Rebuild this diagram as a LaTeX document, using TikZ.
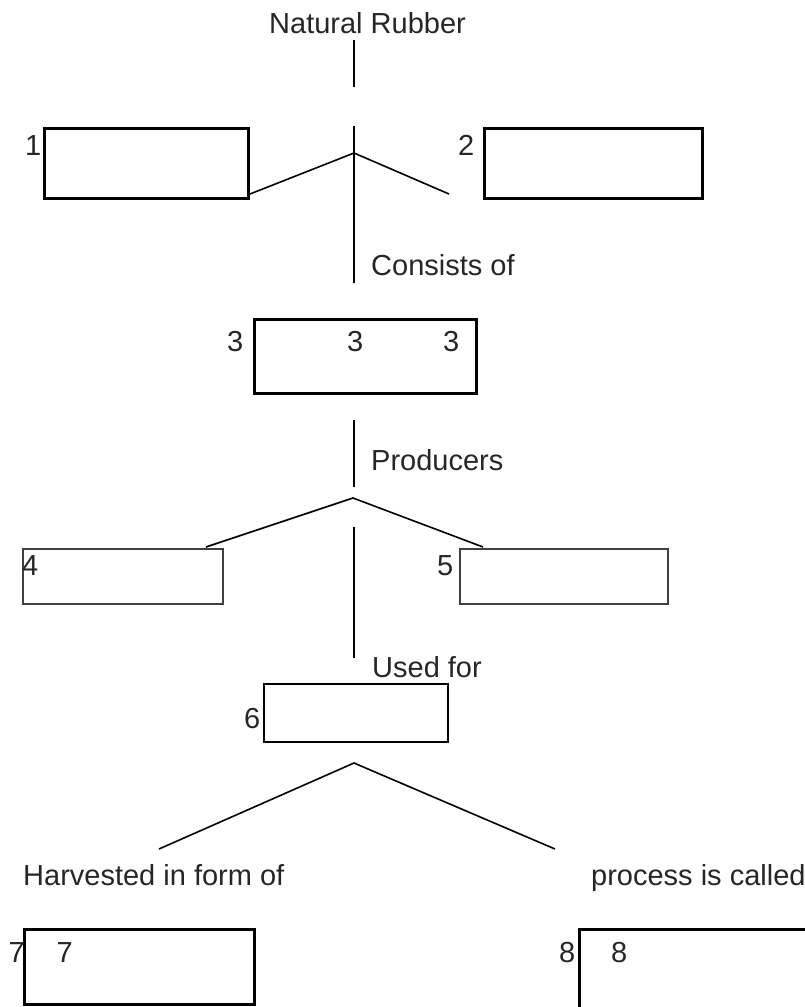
\documentclass[tikz,border=0pt]{standalone}
\usepackage{fontspec}
\setmainfont{Liberation Sans}
\begin{document}
\begin{tikzpicture}[x=1pt,y=-1pt,
    every node/.style={inner sep=0pt,text=black!85,font=\fontsize{29}{34}\selectfont},
    lbl/.style={anchor=base west},
    box/.style={draw,line width=2.6pt,anchor=north west},
    thinbox/.style={draw=black!75,line width=1.8pt,anchor=north west},
    link/.style={line width=1.6pt}]
  \useasboundingbox (0,0) rectangle (805,1007);
  \node[lbl] (title) at (269,33) {Natural Rubber};
  \coordinate (a1) at (354,40);
  \coordinate (a2) at (354,87);
  \draw[link] (a1) -- (a2);
  \node[box,minimum width=204pt,minimum height=70pt] (b1) at (43,127) {};
  \node[box,minimum width=218pt,minimum height=70pt] (b2) at (483,127) {};
  \node[lbl] (n1) at (25,155) {1};
  \node[lbl] (n2) at (458,155) {2};
  \coordinate (c1) at (354,126);
  \coordinate (c2) at (354,283);
  \coordinate (ctop) at (354,153);
  \coordinate (cl) at (250,194);
  \coordinate (cr) at (449,194);
  \draw[link] (c1) -- (c2);
  \draw[link] (cl) -- (ctop) -- (cr);
  \node[lbl] (cons) at (371,275) {Consists of};
  \node[box,minimum width=222pt,minimum height=74pt] (b3) at (253,318) {};
  \node[lbl] (n3a) at (227,351) {3};
  \node[lbl] (n3b) at (347,351) {3};
  \node[lbl] (n3c) at (443,351) {3};
  \coordinate (d1) at (354,420);
  \coordinate (d2) at (354,487);
  \draw[link] (d1) -- (d2);
  \node[lbl] (prod) at (371,470) {Producers};
  \coordinate (ptop) at (353,498);
  \coordinate (pl) at (206,547);
  \coordinate (pr) at (483,547);
  \draw[link] (pl) -- (ptop) -- (pr);
  \node[thinbox,minimum width=200pt,minimum height=55pt] (b4) at (22,548) {};
  \node[thinbox,minimum width=208pt,minimum height=55pt] (b5) at (459,548) {};
  \node[lbl] (n4) at (22,575) {4};
  \node[lbl] (n5) at (437,575) {5};
  \coordinate (e1) at (354,527);
  \coordinate (e2) at (354,658);
  \draw[link] (e1) -- (e2);
  \node[lbl] (used) at (372,677) {Used for};
  \node[box,line width=2pt,minimum width=184pt,minimum height=58pt] (b6) at (263,683) {};
  \node[lbl] (n6) at (244,728) {6};
  \coordinate (utop) at (354,763);
  \coordinate (ul) at (159,849);
  \coordinate (ur) at (555,849);
  \draw[link] (ul) -- (utop) -- (ur);
  \node[lbl] (harv) at (23,885) {Harvested in form of};
  \node[lbl] (proc) at (591,885) {process is called};
  \node[box,minimum width=230pt,minimum height=75pt] (b7) at (23,928) {};
  \node[box,minimum width=250pt,minimum height=100pt] (b8) at (578,928) {};
  \node[lbl] (n7a) at (8.5,962) {7};
  \node[lbl] (n7b) at (56.5,962) {7};
  \node[lbl] (n8a) at (559,962) {8};
  \node[lbl] (n8b) at (611,962) {8};
\end{tikzpicture}
\end{document}
